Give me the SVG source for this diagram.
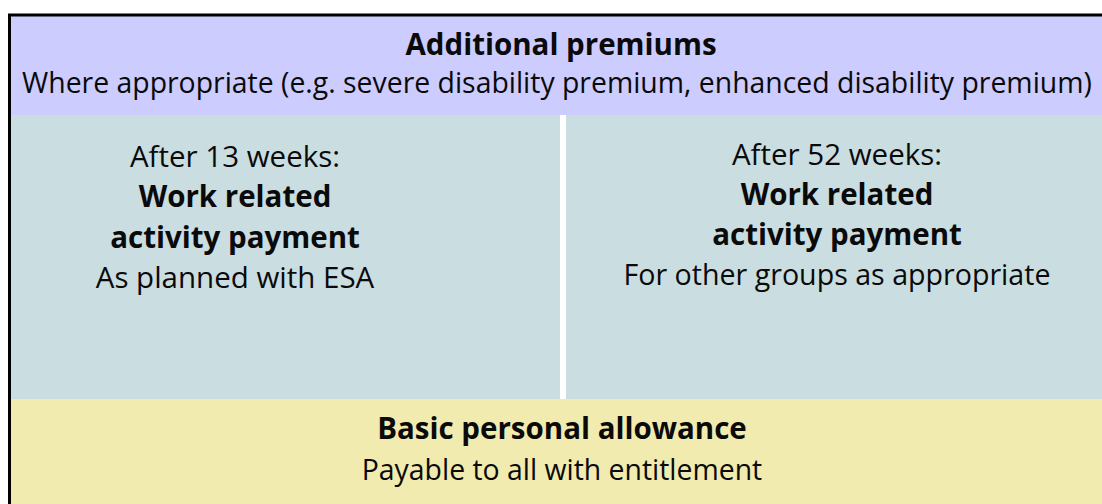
<svg xmlns="http://www.w3.org/2000/svg" width="1102" height="504" viewBox="0 0 1102 504">
<style>
text{font-family:"Open Sans","Noto Sans","DejaVu Sans",sans-serif;font-size:29.5px;fill:#0a0a0a;text-anchor:middle}
.b{font-weight:bold}
</style>
<rect width="1102" height="504" fill="#fff"/>
<g id="premiums">
<rect x="9" y="15" width="1100" height="100" fill="#CCCCFF"/>
<text x="561" y="55" class="b">Additional premiums</text>
<text x="22" y="93" style="text-anchor:start;font-size:28.4px">Where appropriate (e.g. severe disability premium, enhanced disability premium)</text>
</g>
<g id="wra13">
<rect x="9" y="115" width="551" height="284" fill="#CADDE0"/>
<text x="235" y="167">After 13 weeks:</text>
<text x="235" y="207" class="b">Work related</text>
<text x="235" y="248" class="b">activity payment</text>
<text x="235" y="288">As planned with ESA</text>
</g>
<g id="wra52">
<rect x="566" y="115" width="540" height="284" fill="#CADDE0"/>
<text x="837" y="165">After 52 weeks:</text>
<text x="837" y="205" class="b">Work related</text>
<text x="837" y="245" class="b">activity payment</text>
<text x="837" y="285" style="font-size:28.6px">For other groups as appropriate</text>
</g>
<g id="basic">
<rect x="9" y="399" width="1100" height="110" fill="#F2EBB0"/>
<text x="562" y="439" class="b">Basic personal allowance</text>
<text x="562" y="480" style="font-size:28.4px">Payable to all with entitlement</text>
</g>
<g id="connectors"></g>
<path d="M9.5 510 V15 H1102" fill="none" stroke="#000" stroke-width="3"/>
</svg>
